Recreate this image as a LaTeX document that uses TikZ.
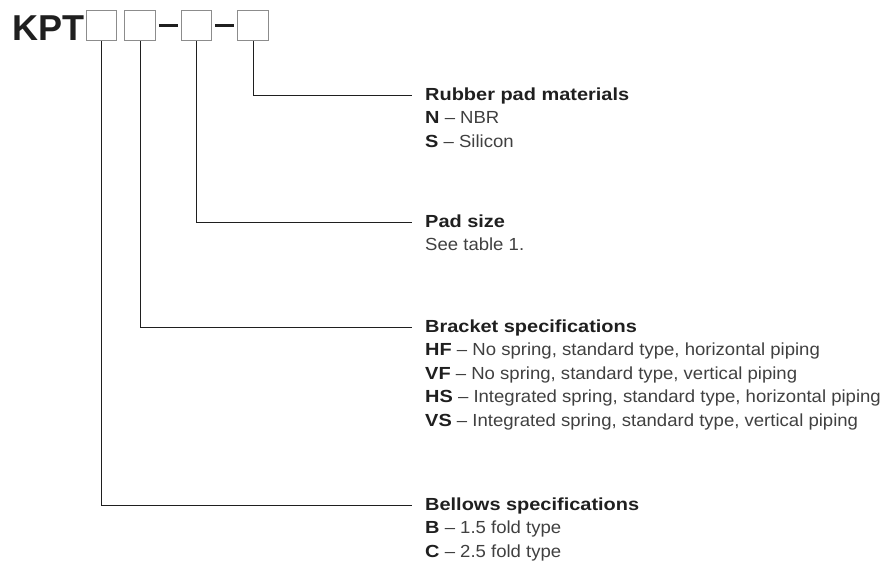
\documentclass[tikz,border=0pt]{standalone}
\usepackage{fontspec}
\setmainfont{Liberation Sans}[FakeStretch=1.06, BoldFeatures={FakeStretch=1.14}]
\newfontfamily\kptfont{Liberation Sans}
\usetikzlibrary{positioning}
\definecolor{inkgray}{gray}{0.25}
\definecolor{headgray}{gray}{0.12}
\definecolor{boxgray}{gray}{0.55}
\tikzset{
  codebox/.style={draw=boxgray, line width=1.2pt, minimum size=30.5pt, inner sep=0pt},
  leader/.style={line width=0.9pt, draw=headgray},
  txtline/.style={anchor=west, inner xsep=13pt, inner ysep=0pt, text height=17pt, text depth=6pt,
    font=\fontsize{17.5}{17.5}\selectfont, text=inkgray},
  head/.style={txtline, font=\fontsize{17.5}{17.5}\selectfont\bfseries, text=headgray},
}
\newcommand{\opt}[2]{\textbf{\color{headgray}#1} – #2}

\begin{document}
\begin{tikzpicture}[x=1pt, y=-1pt]
\useasboundingbox (0,0) rectangle (881,566);
% model code
\node (kpt) [anchor=base west, inner sep=0pt, font=\kptfont\fontsize{36}{36}\selectfont\bfseries, text=headgray] at (12,40) {KPT};
\node (b1) [codebox] at (101.5,25.5) {};
\node (b2) [codebox] at (140,25.5) {};
\node (b3) [codebox] at (196.5,25.5) {};
\node (b4) [codebox] at (253,25.5) {};
\draw [line width=2.2pt, headgray] ([xshift=3pt]b2.east) -- ([xshift=-3pt]b3.west);
\draw [line width=2.2pt, headgray] ([xshift=3pt]b3.east) -- ([xshift=-3pt]b4.west);
% rubber pad
\node (rubber) [head] at (412,95) {Rubber pad materials};
\node (rubberN) [txtline, below right=0pt of rubber.south west] {\opt{N}{NBR}};
\node (rubberS) [txtline, below right=0pt of rubberN.south west] {\opt{S}{Silicon}};
% pad size
\node (padsize) [head] at (412,222) {Pad size};
\node (padtab) [txtline, below right=0pt of padsize.south west] {See table 1.};
% bracket
\node (bracket) [head] at (412,327) {Bracket specifications};
\node (bracketHF) [txtline, below right=0pt of bracket.south west] {\opt{HF}{No spring, standard type, horizontal piping}};
\node (bracketVF) [txtline, below right=0pt of bracketHF.south west] {\opt{VF}{No spring, standard type, vertical piping}};
\node (bracketHS) [txtline, below right=0pt of bracketVF.south west] {\opt{HS}{Integrated spring, standard type, horizontal piping}};
\node (bracketVS) [txtline, below right=0pt of bracketHS.south west] {\opt{VS}{Integrated spring, standard type, vertical piping}};
% bellows
\node (bellows) [head] at (412,505) {Bellows specifications};
\node (bellowsB) [txtline, below right=0pt of bellows.south west] {\opt{B}{1.5 fold type}};
\node (bellowsC) [txtline, below right=0pt of bellowsB.south west] {\opt{C}{2.5 fold type}};
% leaders
\draw [leader] (b4.south) |- (rubber.west);
\draw [leader] (b3.south) |- (padsize.west);
\draw [leader] (b2.south) |- (bracket.west);
\draw [leader] (b1.south) |- (bellows.west);
\end{tikzpicture}
\end{document}
